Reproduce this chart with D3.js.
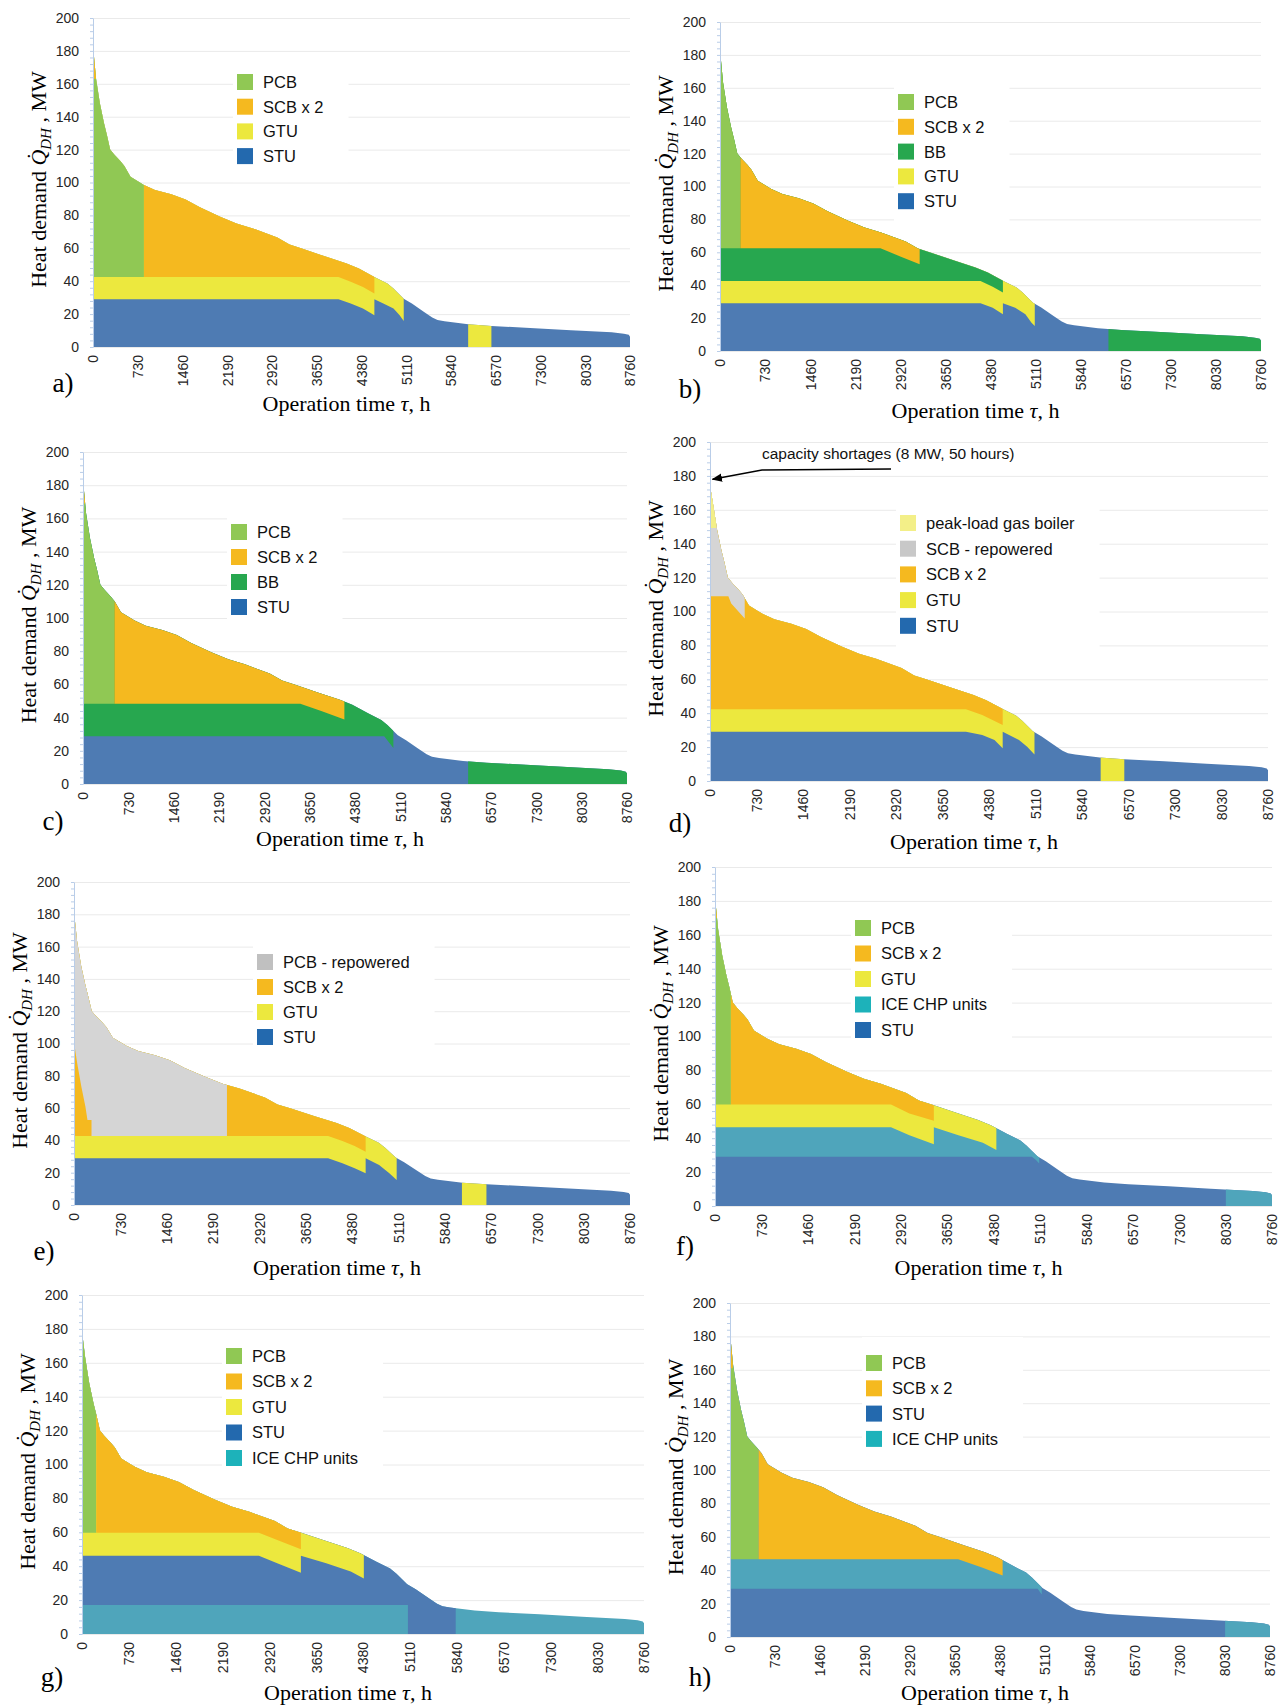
<!DOCTYPE html>
<html>
<head>
<meta charset="utf-8">
<script src="https://cdn.jsdelivr.net/npm/d3@7"></script>
<style>
body { margin: 0; background: #fff; }
svg text { font-family: "Liberation Sans", Arial, sans-serif; }
svg text.serif { font-family: "Liberation Serif", "Times New Roman", serif; }
</style>
</head>
<body>
<svg id="fig" width="1279" height="1708"></svg>
<script>
/*
*   Heat load duration curves, 8 supply variants a) .. h)
*/

// load duration curve: operation time (h) and total heat demand (MW)
var demandHours = [0, 50, 113, 180, 226, 280, 346, 446, 512, 612, 745, 831, 1011, 1277, 1510, 1743, 2075, 2341, 2608, 3007, 3206, 3406, 3805, 4137, 4337, 4590, 4803, 4902, 5069, 5202, 5401, 5534, 5620, 5734, 6120, 6499, 7131, 7796, 8461, 8661, 8740, 8760];
var demandMW    = [183, 163, 148, 136, 129, 120, 117, 113, 110, 103.5, 100.5, 98.5, 95.4, 92.8, 89.7, 84.9, 79.2, 75.1, 72.1, 66.6, 62.3, 59.9, 54.8, 50.8, 47.7, 42.6, 38.6, 35.5, 29.4, 26.4, 21.3, 17.9, 16.4, 15.6, 13.8, 12.8, 11.6, 10.2, 8.9, 8.1, 7.4, 6.3];
// highest load covered in each variant (d has the 8 MW shortage)
var peakCover = [183, 183, 183, 174.5, 181.5, 182, 178.5, 182];

var hourTicks = [0, 730, 1460, 2190, 2920, 3650, 4380, 5110, 5840, 6570, 7300, 8030, 8760];
var mwTicks = [0, 20, 40, 60, 80, 100, 120, 140, 160, 180, 200];

// each unit fills the demand area above its lower edge [h, MW], painted in order
// a)
var aSTU  = [[0, 0], [8760, 0]];
var aGTU1 = [[0, 29], [4005, 29], [4204, 26.4], [4404, 23.4], [4590, 19.3], [4590, 29], [4736, 26.4], [4902, 23.4], [5002, 19.3], [5069, 15.8]];
var aGTU2 = [[6120, 0], [6499, 0]];
var aPCB  = [[0, 42.6], [831, 42.6]];
var aSCB1 = [[0, 163], [50, 163]];
var aSCB2 = [[831, 42.6], [4005, 42.6], [4204, 39.6], [4404, 36.5], [4590, 32.5]];
// b)
var bSTU  = [[0, 0], [8760, 0]];
var bBB2  = [[6290, 0], [8760, 0]];
var bGTU  = [[0, 29], [4218, 29], [4416, 26.3], [4581, 22.3], [4581, 29], [4780, 26.3], [4945, 22.3], [5044, 17.2], [5097, 15.2]];
var bBB1  = [[0, 42.5], [4218, 42.5], [4416, 39.1], [4581, 35.5]];
var bPCB  = [[0, 62.5], [330, 62.5]];
var bSCB  = [[330, 62.5], [2598, 62.5], [2929, 57.3], [3233, 52.7]];
// c)
var cSTU  = [[0, 0], [8760, 0]];
var cBB2  = [[6202, 0], [8760, 0]];
var cBB1  = [[0, 28.7], [4850, 28.7], [4998, 21.7]];
var cPCB  = [[0, 48.4], [506, 48.4]];
var cSCB1 = [[0, 169], [40, 169]];
var cSCB2 = [[506, 48.4], [3499, 48.4], [3848, 43.8], [4209, 38.8]];
// d)
var dSTU  = [[0, 0], [8760, 0]];
var dGTU1 = [[0, 29.1], [4018, 29.1], [4274, 27.1], [4466, 24.2], [4595, 19.3], [4595, 29.1], [4851, 24.2], [4979, 20.2], [5094, 15.7]];
var dGTU2 = [[6133, 0], [6504, 0]];
var dSCB  = [[0, 42.4], [4018, 42.4], [4274, 38.9], [4595, 33]];
var dSCBR = [[0, 109], [288, 109], [333, 104.7], [429, 100.8], [545, 95.9]];
var dPEAK = [[0, 149.3], [100, 149.3]];
// e)
var eSTU  = [[0, 0], [8760, 0]];
var eGTU1 = [[0, 28.9], [4004, 28.9], [4229, 25.8], [4422, 22.7], [4595, 19.6], [4595, 28.9], [4807, 24.7], [4968, 19.6], [5084, 15.5]];
var eGTU2 = [[6112, 0], [6498, 0]];
var eSCB  = [[0, 42.7], [4004, 42.7], [4229, 39.6], [4422, 36.5], [4595, 33]];
var ePCBR = [[0, 101], [51, 87.6], [116, 73.2], [180, 60.8], [212, 52.6], [276, 52.6], [276, 42.7], [2410, 42.7]];
// f)
var fSTU  = [[0, 0], [8760, 0]];
var fICE1 = [[0, 29.1], [4983, 29.1], [5048, 27.1], [5099, 25.1]];
var fICE2 = [[8034, 0], [8760, 0]];
var fGTU  = [[0, 46.4], [2768, 46.4], [3057, 41.8], [3442, 36.5], [3442, 46.4], [3828, 41.8], [4213, 37.3], [4425, 33]];
var fPCB  = [[0, 59.9], [250, 59.9]];
var fSCB1 = [[0, 170], [45, 170]];
var fSCB2 = [[250, 59.9], [2768, 59.9], [3057, 54.6], [3442, 50.3]];
// g)
var gICE  = [[0, 0], [8760, 0]];
var gSTU  = [[0, 17.1], [5080, 17.1], [5080, 0], [5825, 0]];
var gGTU  = [[0, 46.2], [2757, 46.2], [3043, 41.7], [3412, 36.2], [3412, 46.2], [3807, 41.7], [4189, 36.8], [4393, 32.8]];
var gPCB  = [[0, 59.8], [223, 59.8]];
var gSCB  = [[223, 59.8], [2757, 59.8], [3043, 55.5], [3412, 50]];
// h)
var hSTU  = [[0, 0], [8760, 0]];
var hICE1 = [[0, 28.9], [4991, 28.9], [5057, 25.5]];
var hICE2 = [[8032, 0], [8760, 0]];
var hPCB  = [[0, 46.5], [463, 46.5]];
var hSCB1 = [[0, 161], [45, 161]];
var hSCB2 = [[463, 46.5], [3702, 46.5], [4099, 41.5], [4423, 36.9]];

// legend entries
var legendA = ["PCB", "SCB x 2", "GTU", "STU"];
var legendB = ["PCB", "SCB x 2", "BB", "GTU", "STU"];
var legendC = ["PCB", "SCB x 2", "BB", "STU"];
var legendD = ["peak-load gas boiler", "SCB - repowered", "SCB x 2", "GTU", "STU"];
var legendE = ["PCB - repowered", "SCB x 2", "GTU", "STU"];
var legendF = ["PCB", "SCB x 2", "GTU", "ICE CHP units", "STU"];
var legendG = ["PCB", "SCB x 2", "GTU", "STU", "ICE CHP units"];
var legendH = ["PCB", "SCB x 2", "STU", "ICE CHP units"];

var areaColour = { STU: "#4e7bb3", GTU: "#ece83e", PCB: "#90c854", SCB: "#f5b91f", BB: "#27a74f",
                   REP: "#d5d5d5", PEAK: "#f3ef88", ICE: "#4fa5bb" };
var keyColour = { "PCB": "#90c854", "SCB x 2": "#f5b91f", "GTU": "#ece83e", "STU": "#2369ae", "BB": "#27a74f",
                  "ICE CHP units": "#1db2ba", "SCB - repowered": "#c8c8c8", "PCB - repowered": "#c0c0c0",
                  "peak-load gas boiler": "#f3ef88" };

var panels = [
  { id: "a", x0: 93,  x1: 630,  yT: 18,   yB: 347,  key: [237, 82, 24.7],   letterDy: 45, titleDy: 56, legend: legendA,
    layers: [["STU", aSTU], ["GTU", aGTU1], ["GTU", aGTU2], ["PCB", aPCB], ["SCB", aSCB1], ["SCB", aSCB2]] },
  { id: "b", x0: 720, x1: 1261, yT: 22,   yB: 351,  key: [898, 102, 24.8],  letterDy: 47, titleDy: 59, legend: legendB,
    layers: [["STU", bSTU], ["BB", bBB2], ["GTU", bGTU], ["BB", bBB1], ["PCB", bPCB], ["SCB", bSCB]] },
  { id: "c", x0: 83,  x1: 627,  yT: 452,  yB: 784,  key: [231, 532, 25],    letterDy: 46, titleDy: 54, legend: legendC,
    layers: [["STU", cSTU], ["BB", cBB2], ["BB", cBB1], ["PCB", cPCB], ["SCB", cSCB1], ["SCB", cSCB2]] },
  { id: "d", x0: 710, x1: 1268, yT: 442,  yB: 781,  key: [900, 523, 25.7],  letterDy: 51, titleDy: 60, legend: legendD,
    layers: [["STU", dSTU], ["GTU", dGTU1], ["GTU", dGTU2], ["SCB", dSCB], ["REP", dSCBR], ["PEAK", dPEAK]] },
  { id: "e", x0: 74,  x1: 630,  yT: 882,  yB: 1205, key: [257, 962, 25],    letterDy: 55, titleDy: 62, legend: legendE,
    layers: [["STU", eSTU], ["GTU", eGTU1], ["GTU", eGTU2], ["SCB", eSCB], ["REP", ePCBR]] },
  { id: "f", x0: 715, x1: 1272, yT: 867,  yB: 1206, key: [855, 928, 25.5],  letterDy: 49, titleDy: 61, legend: legendF,
    layers: [["STU", fSTU], ["ICE", fICE1], ["ICE", fICE2], ["GTU", fGTU], ["PCB", fPCB], ["SCB", fSCB1], ["SCB", fSCB2]] },
  { id: "g", x0: 82,  x1: 644,  yT: 1295, yB: 1634, key: [226, 1356, 25.5], letterDy: 52, titleDy: 58, legend: legendG,
    layers: [["ICE", gICE], ["STU", gSTU], ["GTU", gGTU], ["PCB", gPCB], ["SCB", gSCB]] },
  { id: "h", x0: 730, x1: 1270, yT: 1303, yB: 1637, key: [866, 1363, 25.3], letterDy: 49, titleDy: 55, legend: legendH,
    layers: [["STU", hSTU], ["ICE", hICE1], ["ICE", hICE2], ["PCB", hPCB], ["SCB", hSCB1], ["SCB", hSCB2]] }
];

var svg = d3.select("#fig");
var defs = svg.append("defs");
defs.append("marker")
    .attr("id", "arrow")
    .attr("viewBox", "0 0 10 10")
    .attr("refX", 9).attr("refY", 5)
    .attr("markerWidth", 7).attr("markerHeight", 7)
    .attr("orient", "auto-start-reverse")
  .append("path")
    .attr("d", "M0,1 L10,5 L0,9 z")
    .attr("fill", "#000");

panels.forEach(function(p, i) {
    var x = d3.scaleLinear().domain([0, 8760]).range([p.x0, p.x1]);
    var y = d3.scaleLinear().domain([0, 200]).range([p.yB, p.yT]);
    var g = svg.append("g").attr("class", "panel-" + p.id);

    // gridlines
    g.append("g")
        .attr("transform", "translate(" + p.x0 + ",0)")
        .call(d3.axisLeft(y).tickValues(mwTicks).tickSize(-(p.x1 - p.x0)).tickFormat(""))
        .call(function(s) { s.select(".domain").remove(); })
        .selectAll("line").attr("stroke", "#eaeaea");

    // legend (white box hides the grid behind it)
    var kx = p.key[0], ky = p.key[1], step = p.key[2];
    var legend = g.append("g");
    var box = legend.append("rect").attr("fill", "#fff");
    var maxW = 0;
    p.legend.forEach(function(name, k) {
        var row = legend.append("g").attr("transform", "translate(" + kx + "," + (ky + k * step) + ")");
        row.append("rect")
            .attr("x", 0).attr("y", -8)
            .attr("width", 16).attr("height", 16)
            .attr("fill", keyColour[name]);
        var t = row.append("text")
            .attr("x", 26).attr("dy", "0.36em")
            .attr("font-size", 16.5)
            .attr("fill", "#111")
            .text(name);
        maxW = Math.max(maxW, t.node().getComputedTextLength());
    });
    box.attr("x", kx - 4).attr("y", ky - 26)
       .attr("width", maxW + 55).attr("height", (p.legend.length - 1) * step + 52);

    // unit areas, clipped by the load duration curve
    var cap = peakCover[i];
    var demand = demandHours.map(function(t, k) { return [t, Math.min(demandMW[k], cap)]; });
    var clipId = "clip-" + p.id;
    defs.append("clipPath").attr("id", clipId)
      .append("path")
        .attr("d", d3.area().x(function(d) { return x(d[0]); }).y0(y(0)).y1(function(d) { return y(d[1]); })(demand));

    var edge = d3.area()
        .x(function(d) { return x(d[0]); })
        .y0(function(d) { return y(d[1]); })
        .y1(y(200));
    var fills = g.append("g").attr("clip-path", "url(#" + clipId + ")");
    p.layers.forEach(function(l) {
        fills.append("path")
            .attr("d", edge(l[1]))
            .attr("fill", areaColour[l[0]]);
    });

    // Y axis
    var yAx = g.append("g")
        .attr("transform", "translate(" + p.x0 + ",0)")
        .call(d3.axisLeft(y).tickValues(mwTicks).tickSize(0).tickPadding(14));
    yAx.select(".domain").attr("stroke", "#b9cde8");
    yAx.selectAll("text").attr("font-size", 14).attr("fill", "#262626");
    g.append("g")
        .attr("transform", "translate(" + p.x0 + ",0)")
        .call(d3.axisLeft(y).tickValues(d3.range(0, 201, 4)).tickSize(3).tickFormat(""))
        .call(function(s) { s.select(".domain").remove(); })
        .selectAll("line").attr("stroke", "#b9cde8");

    // X axis
    var xAx = g.append("g")
        .attr("transform", "translate(0," + p.yB + ")")
        .call(d3.axisBottom(x).tickValues(hourTicks).tickSize(0).tickFormat(d3.format("d")));
    xAx.select(".domain").remove();
    xAx.selectAll("text")
        .attr("transform", "rotate(-90)")
        .attr("x", -8).attr("y", 0).attr("dy", "0.35em")
        .attr("text-anchor", "end")
        .attr("font-size", 14)
        .attr("fill", "#262626");

    // axis titles
    var xt = g.append("text")
        .attr("class", "serif")
        .attr("x", (p.x0 + p.x1) / 2 - 15)
        .attr("y", p.yB + p.titleDy)
        .attr("dy", "0.35em")
        .attr("text-anchor", "middle")
        .attr("font-size", 22);
    xt.append("tspan").text("Operation time  ");
    xt.append("tspan").attr("font-style", "italic").text("\u03c4");
    xt.append("tspan").text(", h");

    var yt = g.append("text")
        .attr("class", "serif")
        .attr("transform", "translate(" + (p.x0 - 55) + "," + ((p.yT + p.yB) / 2 - 3) + ") rotate(-90)")
        .attr("text-anchor", "middle")
        .attr("dy", "0.35em")
        .attr("font-size", 22);
    yt.append("tspan").text("Heat demand  ");
    yt.append("tspan").attr("font-style", "italic").text("Q\u0307");
    yt.append("tspan").attr("font-style", "italic").attr("font-size", 15).attr("dy", 5).text("DH");
    yt.append("tspan").attr("dy", -5).text(" , MW");

    // panel letter
    g.append("text")
        .attr("class", "serif")
        .attr("x", p.x0 - 30)
        .attr("y", p.yB + p.letterDy)
        .attr("text-anchor", "middle")
        .attr("font-size", 27)
        .text(p.id + ")");

    // shortage note in d)
    if (p.id === "d") {
        g.append("text")
            .attr("x", 762).attr("y", 459)
            .attr("font-size", 15.5)
            .attr("fill", "#111")
            .text("capacity shortages (8 MW, 50 hours)");
        var tip = [x(40), y(178)];
        g.append("path")
            .attr("d", "M891,469 L762,470 L" + tip[0] + "," + tip[1])
            .attr("fill", "none")
            .attr("stroke", "#000")
            .attr("stroke-width", 1.5)
            .attr("marker-end", "url(#arrow)");
    }
});
</script>
</body>
</html>
